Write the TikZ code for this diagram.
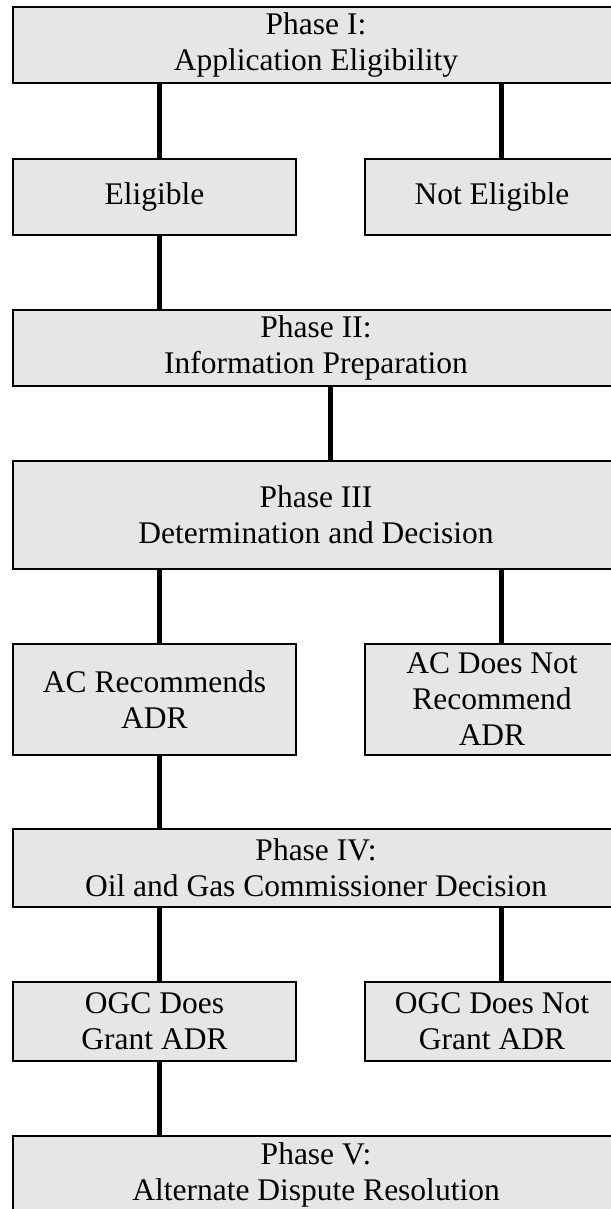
\documentclass[tikz,border=0pt]{standalone}
\usepackage{fontspec}
\setmainfont{Liberation Serif}
\definecolor{boxfill}{RGB}{230,230,230}

\begin{document}
\begin{tikzpicture}[x=1pt,y=-1pt]
      \useasboundingbox (0,0) rectangle (610,1209);

      \begin{scope}[every node/.style={draw, line width=1.6pt, fill=boxfill, align=center,
          inner sep=0pt, font=\fontsize{31.5}{36}\selectfont},
          widebox/.style={minimum width=606pt},
          lbox/.style={minimum width=283pt},
          rbox/.style={minimum width=254pt}]
        \node[widebox, minimum height=76pt]  (p1)   at (316,45)     {Phase I:\\Application Eligibility};
        \node[lbox, minimum height=76pt]     (elig) at (154.5,197)  {Eligible};
        \node[rbox, minimum height=76pt]     (nel)  at (492,197)    {Not Eligible};
        \node[widebox, minimum height=76pt]  (p2)   at (316,348)    {Phase II:\\Information Preparation};
        \node[widebox, minimum height=108pt] (p3)   at (316,515)    {Phase III\\Determination and Decision};
        \node[lbox, minimum height=111pt]    (acr)  at (154.5,699.5) {AC Recommends\\ADR};
        \node[rbox, minimum height=111pt]    (acn)  at (492,699.5)  {AC Does Not\\Recommend\\ADR};
        \node[widebox, minimum height=78pt]  (p4)   at (316,868)    {Phase IV:\\Oil and Gas Commissioner Decision};
        \node[lbox, minimum height=79pt]     (ogc)  at (154.5,1021.5) {OGC Does\\Grant ADR};
        \node[rbox, minimum height=79pt]     (ogcn) at (492,1021.5) {OGC Does Not\\Grant ADR};
        \node[widebox, minimum height=78pt]  (p5)   at (316,1175)   {Phase V:\\Alternate Dispute Resolution};
      \end{scope}

      \coordinate (lx) at (159,0);
      \coordinate (rx) at (501,0);
      \coordinate (mx) at (330,0);

      \begin{scope}[every edge/.style={draw, line width=5pt}]
        \path (p1.south -| lx)  edge (elig.north -| lx);
        \path (p1.south -| rx)  edge (nel.north -| rx);
        \path (elig.south -| lx) edge (p2.north -| lx);
        \path (p2.south -| mx)  edge (p3.north -| mx);
        \path (p3.south -| lx)  edge (acr.north -| lx);
        \path (p3.south -| rx)  edge (acn.north -| rx);
        \path (acr.south -| lx) edge (p4.north -| lx);
        \path (p4.south -| lx)  edge (ogc.north -| lx);
        \path (p4.south -| rx)  edge (ogcn.north -| rx);
        \path (ogc.south -| lx) edge (p5.north -| lx);
      \end{scope}

    \end{tikzpicture}
\end{document}
